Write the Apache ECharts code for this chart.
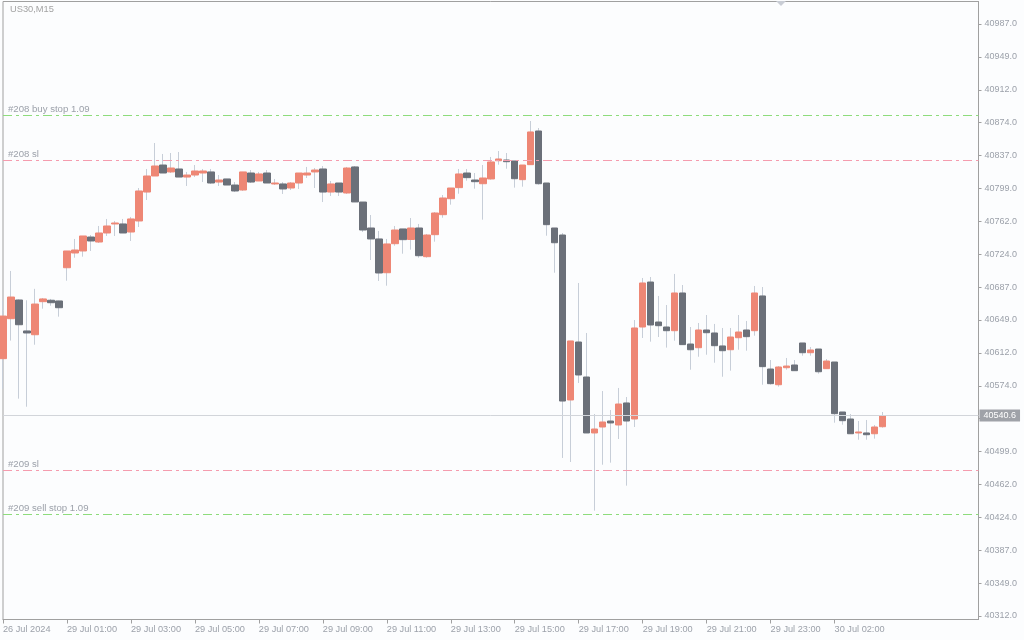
<!DOCTYPE html>
<html><head><meta charset="utf-8">
<script src="https://cdn.jsdelivr.net/npm/echarts@6/dist/echarts.min.js"></script>
<style>html,body{margin:0;padding:0;background:#fcfdfe}#c{width:1024px;height:640px}</style>
</head><body><div id="c"></div>
<script>
const symbolTitle = 'US30,M15';
const openP = [40605.4,40651.0,40672.3,40637.0,40632.7,40670.4,40672.0,40671.2,40709.1,40725.9,
40728.2,40744.1,40738.4,40748.7,40759.0,40759.0,40749.8,40762.4,40795.4,40813.7,
40826.2,40818.3,40821.7,40812.5,40814.8,40817.1,40818.3,40806.8,40810.3,40803.4,
40797.7,40817.1,40808.0,40817.1,40804.6,40804.6,40800.0,40805.7,40814.8,40818.3,
40821.7,40795.4,40805.7,40794.3,40824.0,40784.0,40754.4,40741.9,40703.4,40736.5,
40753.3,40741.3,40754.4,40721.7,40746.8,40769.6,40787.8,40800.4,40817.1,40809.1,
40804.9,40810.3,40831.1,40831.9,40830.8,40809.5,40826.6,40865.0,40805.7,40754.4,
40746.4,40558.3,40624.4,40584.5,40520.7,40527.5,40534.3,40529.8,40554.9,40536.6,
40641.5,40692.8,40647.2,40641.5,40637.3,40680.3,40622.1,40617.9,40638.1,40634.7,
40619.9,40615.6,40629.3,40638.1,40637.3,40676.9,40593.6,40575.7,40595.1,40598.2,
40623.3,40612.2,40616.4,40594.0,40601.6,40544.6,40536.6,40520.7,40520.7,40519.8,
40527.8];
const highP = [40671.5,40705.4,40673.0,40672.0,40685.0,40674.6,40673.5,40671.5,40728.2,40741.9,
40745.3,40746.4,40756.7,40764.7,40762.4,40764.7,40767.0,40800.0,40821.7,40851.3,
40838.8,40839.9,40841.0,40818.3,40826.2,40821.7,40821.7,40814.8,40810.3,40806.8,
40818.3,40820.5,40818.3,40820.5,40810.3,40806.8,40806.8,40817.1,40824.0,40822.8,
40825.1,40808.0,40805.7,40824.0,40825.1,40784.0,40769.2,40751.0,40741.9,40756.7,
40753.3,40765.8,40759.0,40747.6,40772.6,40792.0,40800.0,40821.7,40821.7,40817.1,
40826.2,40835.4,40842.2,40839.9,40830.8,40826.2,40876.4,40868.4,40805.7,40754.4,
40748.7,40625.6,40691.7,40634.7,40542.3,40568.5,40546.9,40572.0,40561.7,40649.5,
40697.4,40698.5,40676.9,40666.6,40702.0,40689.4,40641.5,40646.1,40655.2,40645.0,
40640.4,40640.4,40655.2,40648.4,40688.3,40687.1,40603.9,40597.0,40606.2,40603.9,
40623.3,40618.7,40616.4,40605.0,40601.6,40544.6,40542.3,40534.3,40535.5,40529.8,
40544.6];
const lowP = [40571.0,40626.0,40559.8,40550.6,40621.3,40662.4,40665.8,40653.3,40694.3,40720.5,
40721.7,40728.2,40737.3,40745.3,40745.3,40748.7,40739.6,40755.5,40786.3,40813.7,
40817.1,40817.1,40812.5,40802.3,40812.5,40806.8,40804.6,40802.3,40803.4,40795.4,
40796.6,40805.7,40808.0,40805.7,40803.4,40793.2,40797.7,40798.9,40811.4,40800.0,
40784.0,40790.9,40790.9,40793.2,40784.1,40749.8,40717.9,40694.0,40688.6,40734.2,
40725.1,40729.7,40720.5,40720.5,40738.8,40766.1,40781.0,40793.5,40808.3,40799.2,
40763.9,40809.5,40826.6,40822.0,40800.4,40801.5,40826.6,40803.8,40745.6,40703.4,
40492.2,40487.6,40577.7,40520.7,40432.1,40484.5,40486.8,40513.8,40460.6,40527.5,
40629.0,40624.8,40630.1,40618.0,40625.9,40621.4,40592.8,40607.6,40609.9,40600.8,
40584.8,40591.7,40615.6,40614.5,40631.6,40575.7,40575.7,40573.5,40592.8,40591.7,
40608.8,40608.8,40588.3,40594.0,40532.4,40530.1,40519.8,40513.0,40513.0,40514.2,
40526.7];
const closeP = [40654.0,40675.7,40644.1,40634.7,40667.7,40673.5,40669.2,40663.5,40728.2,40729.3,
40745.3,40739.6,40748.7,40756.7,40760.1,40748.7,40764.7,40796.6,40813.7,40825.1,
40817.1,40822.8,40812.5,40814.8,40819.4,40819.4,40805.7,40809.1,40803.4,40796.6,
40818.3,40806.8,40816.0,40805.7,40805.7,40798.9,40805.7,40817.1,40817.1,40820.5,
40795.4,40804.6,40795.4,40822.8,40784.1,40752.1,40741.9,40703.1,40736.2,40752.1,
40741.1,40754.4,40722.8,40746.4,40771.5,40788.6,40800.0,40816.0,40811.8,40807.2,
40811.4,40829.7,40833.1,40830.0,40810.6,40826.2,40863.9,40804.9,40758.2,40737.6,
40557.1,40625.6,40586.8,40520.7,40525.2,40533.2,40532.1,40553.7,40534.3,40640.4,
40691.7,40643.8,40643.0,40637.3,40680.3,40621.4,40615.6,40638.1,40635.0,40620.2,
40614.5,40630.1,40635.8,40630.5,40680.3,40596.3,40576.9,40595.9,40597.0,40591.7,
40612.2,40615.3,40590.5,40602.7,40542.7,40534.7,40519.8,40521.8,40518.7,40527.5,
40540.6];
// trading sessions: [day, first hour, number of 15-minute bars]
const sessions = [['26 Jul', 22, 8], ['29 Jul', 1, 92], ['30 Jul', 1, 11]];
const emptySlots = 12;
const xTickLabels = {0:'26 Jul 2024', 8:'29 Jul 01:00', 16:'29 Jul 03:00', 24:'29 Jul 05:00',
  32:'29 Jul 07:00', 40:'29 Jul 09:00', 48:'29 Jul 11:00', 56:'29 Jul 13:00', 64:'29 Jul 15:00',
  72:'29 Jul 17:00', 80:'29 Jul 19:00', 88:'29 Jul 21:00', 96:'29 Jul 23:00', 104:'30 Jul 02:00'};
const yTicks = [40312,40349.5,40387,40424.5,40462,40499.5,40537,40574.5,40612,40649.5,
  40687,40724.5,40762,40799.5,40837,40874.5,40912,40949.5,40987];
const currentPrice = 40540.6;
const levels = [
  {text:'#208 buy stop 1.09', price:40882.4, kind:'stop'},
  {text:'#208 sl', price:40831.6, kind:'sl'},
  {text:'#209 sl', price:40478.5, kind:'sl'},
  {text:'#209 sell stop 1.09', price:40428.0, kind:'stop'}
];

const FONT = 'Tahoma, "Liberation Sans", Arial, sans-serif';
const TXT = '#9ca1aa';
const FRAME = '#a0a0a0';
const UP = '#ee8775', DOWN = '#6b7079', WICK = '#c7ced8';

const cats = [];
sessions.forEach(([d, h0, n]) => {
  for (let i = 0; i < n; i++) {
    const m = h0 * 60 + i * 15;
    cats.push(d + ' ' + String(Math.floor(m / 60)).padStart(2, '0') + ':' + String(m % 60).padStart(2, '0'));
  }
});
for (let i = 0; i < emptySlots; i++) cats.push('');

const showTick = (i) => xTickLabels[i] !== undefined;

const wickData = lowP.map((l, i) => [l, highP[i], l, highP[i]]);
const bodyData = openP.map((o, i) => [o, closeP[i], Math.min(o, closeP[i]), Math.max(o, closeP[i])]);

const levelLines = levels.map(l => ({
  yAxis: l.price,
  lineStyle: {color: l.kind === 'stop' ? '#8edc7c' : '#f59cae', type: [9, 4, 3, 4], width: 1},
  label: {show: true, position: 'insideStartTop', formatter: l.text, color: TXT,
    fontSize: 9.6, fontFamily: FONT, distance: [5, 1]}
}));
levelLines.push({
  yAxis: currentPrice,
  lineStyle: {color: '#d2d5da', type: 'solid', width: 1},
  label: {show: true, position: 'end', formatter: currentPrice.toFixed(1), color: '#ffffff',
    backgroundColor: '#9fa2a8', padding: [2, 4, 1, 4], fontSize: 9, fontFamily: FONT, distance: 1}
});

const chart = echarts.init(document.getElementById('c'), null, {renderer: 'canvas'});
chart.setOption({
  animation: false,
  backgroundColor: '#fcfdfe',
  title: {text: symbolTitle, left: 5, top: 0,
    textStyle: {fontSize: 9.3, fontWeight: 'normal', color: '#a3a3a3', fontFamily: FONT}},
  grid: {left: 2.5, top: 1.5, width: 976, height: 618, show: true,
    borderColor: FRAME, borderWidth: 1, backgroundColor: '#fcfdfe'},
  xAxis: {
    type: 'category', data: cats, boundaryGap: false,
    axisLine: {show: true, lineStyle: {color: FRAME}},
    axisTick: {show: true, interval: showTick, length: 4, lineStyle: {color: FRAME}},
    axisLabel: {interval: showTick, formatter: (v, i) => xTickLabels[i] || '', align: 'left',
      color: TXT, fontSize: 9.2, fontFamily: FONT, margin: 5},
    splitLine: {show: false}
  },
  yAxis: {
    type: 'value', position: 'right', min: 40308.0, max: 41012.65, scale: true,
    axisLine: {show: true, lineStyle: {color: FRAME}},
    axisTick: {show: true, length: 3, customValues: yTicks, lineStyle: {color: FRAME}},
    axisLabel: {customValues: yTicks, formatter: v => Math.floor(v + 1e-6).toFixed(1),
      color: TXT, fontSize: 9, fontFamily: FONT, margin: 6},
    splitLine: {show: false}
  },
  graphic: [{type: 'polygon', shape: {points: [[776, 1], [786, 1], [781, 6]]},
    style: {fill: '#c9cdd5'}, z: 100}],
  series: [
    {type: 'candlestick', data: wickData, barWidth: 1, silent: true, z: 2,
      itemStyle: {color: WICK, color0: WICK, borderColor: WICK, borderColor0: WICK, borderWidth: 1}},
    {type: 'candlestick', data: bodyData, barWidth: 7, silent: true, z: 3,
      itemStyle: {color: UP, color0: DOWN, borderColor: UP, borderColor0: DOWN, borderWidth: 1},
      markLine: {symbol: ['none', 'none'], silent: true, animation: false, data: levelLines}}
  ]
});
</script></body></html>
